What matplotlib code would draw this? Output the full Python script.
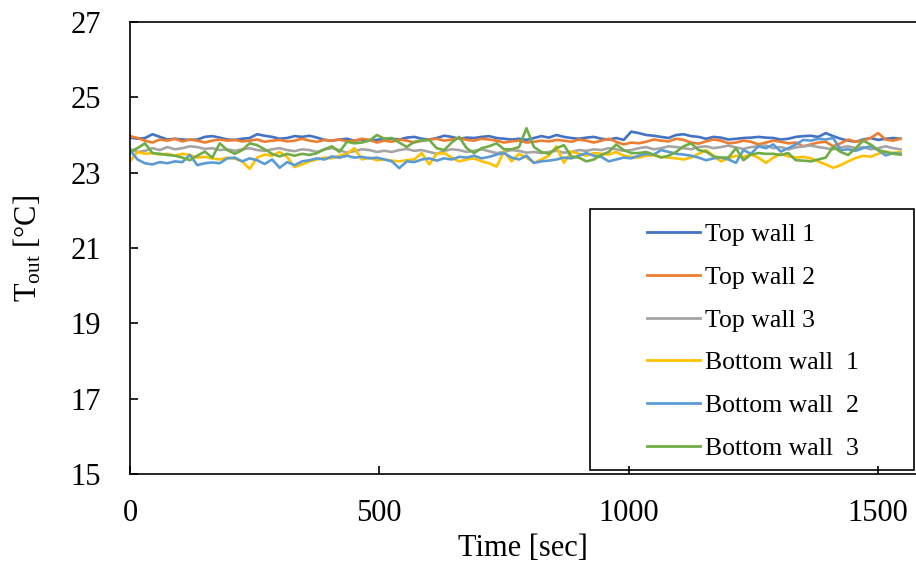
import matplotlib
matplotlib.use('Agg')

import matplotlib.pyplot as plt
import matplotlib.patches as patches
import numpy as np

plt.rcParams['font.family'] = ['Liberation Serif', 'DejaVu Serif']
plt.rcParams['mathtext.fontset'] = 'custom'
plt.rcParams['mathtext.rm'] = 'Liberation Serif'

# time axis, one sample every 15 s
time = np.arange(0, 1546, 15)

top_wall_1 = [
    23.93, 23.90, 23.92, 24.02, 23.95, 23.88, 23.90,
    23.88, 23.87, 23.88, 23.95, 23.97, 23.93, 23.88,
    23.87, 23.90, 23.92, 24.02, 23.98, 23.95, 23.90,
    23.92, 23.97, 23.95, 23.98, 23.93, 23.87, 23.85,
    23.88, 23.90, 23.85, 23.88, 23.85, 23.87, 23.90,
    23.90, 23.88, 23.93, 23.95, 23.90, 23.88, 23.92,
    23.98, 23.95, 23.90, 23.93, 23.92, 23.95, 23.97,
    23.92, 23.90, 23.88, 23.90, 23.87, 23.92, 23.97,
    23.93, 24.00, 23.95, 23.92, 23.90, 23.93, 23.95,
    23.90, 23.88, 23.92, 23.87, 24.09, 24.05, 24.00,
    23.98, 23.95, 23.92, 24.00, 24.02, 23.97, 23.95,
    23.90, 23.95, 23.93, 23.88, 23.90, 23.92, 23.93,
    23.95, 23.93, 23.92, 23.88, 23.90, 23.95, 23.97,
    23.98, 23.95, 24.05, 23.97, 23.90, 23.85, 23.82,
    23.88, 23.92, 23.87, 23.90, 23.92, 23.90]

top_wall_2 = [
    23.97, 23.92, 23.85, 23.80, 23.88, 23.85, 23.90,
    23.83, 23.88, 23.85, 23.80, 23.85, 23.88, 23.85,
    23.87, 23.83, 23.85, 23.88, 23.82, 23.85, 23.87,
    23.83, 23.85, 23.90, 23.85, 23.82, 23.87, 23.85,
    23.88, 23.83, 23.85, 23.90, 23.87, 23.80, 23.85,
    23.82, 23.88, 23.85, 23.80, 23.85, 23.88, 23.90,
    23.85, 23.88, 23.92, 23.87, 23.85, 23.90, 23.88,
    23.85, 23.80, 23.83, 23.85, 23.80, 23.82, 23.85,
    23.83, 23.87, 23.85, 23.82, 23.88, 23.85, 23.80,
    23.85, 23.90, 23.82, 23.75, 23.80, 23.78, 23.82,
    23.88, 23.85, 23.83, 23.90, 23.87, 23.80, 23.77,
    23.83, 23.88, 23.85, 23.78, 23.80, 23.85, 23.82,
    23.75, 23.80, 23.85, 23.82, 23.78, 23.80, 23.70,
    23.75, 23.80, 23.82, 23.70, 23.78, 23.88, 23.82,
    23.85, 23.92, 24.05, 23.88, 23.85, 23.90]

top_wall_3 = [
    23.62, 23.55, 23.58, 23.65, 23.60, 23.68, 23.62,
    23.65, 23.70, 23.68, 23.63, 23.65, 23.60, 23.62,
    23.58, 23.62, 23.65, 23.60, 23.58, 23.62, 23.65,
    23.60, 23.57, 23.62, 23.60, 23.55, 23.62, 23.65,
    23.60, 23.53, 23.57, 23.62, 23.60, 23.55, 23.58,
    23.55, 23.60, 23.63, 23.58, 23.60, 23.55, 23.50,
    23.58, 23.62, 23.60, 23.55, 23.58, 23.62, 23.57,
    23.52, 23.55, 23.60, 23.58, 23.53, 23.55, 23.52,
    23.55, 23.58, 23.53, 23.55, 23.60, 23.58, 23.62,
    23.60, 23.65, 23.62, 23.58, 23.60, 23.65, 23.68,
    23.62, 23.65, 23.70, 23.68, 23.65, 23.62, 23.68,
    23.70, 23.65, 23.68, 23.72, 23.67, 23.63, 23.68,
    23.70, 23.72, 23.65, 23.68, 23.62, 23.67, 23.70,
    23.72, 23.68, 23.65, 23.62, 23.67, 23.70, 23.65,
    23.68, 23.62, 23.65, 23.70, 23.65, 23.62]

bottom_wall_1 = [
    23.30, 23.55, 23.50, 23.52, 23.48, 23.50, 23.45,
    23.50, 23.47, 23.40, 23.42, 23.38, 23.35, 23.40,
    23.37, 23.30, 23.10, 23.40, 23.48, 23.45, 23.55,
    23.42, 23.15, 23.22, 23.30, 23.35, 23.40, 23.38,
    23.45, 23.50, 23.65, 23.35, 23.40, 23.33, 23.35,
    23.32, 23.30, 23.33, 23.35, 23.52, 23.22, 23.50,
    23.52, 23.40, 23.30, 23.35, 23.38, 23.30, 23.25,
    23.16, 23.56, 23.30, 23.50, 23.40, 23.26, 23.35,
    23.45, 23.70, 23.26, 23.56, 23.50, 23.45, 23.52,
    23.50, 23.48, 23.55, 23.45, 23.42, 23.40, 23.45,
    23.46, 23.42, 23.40, 23.38, 23.35, 23.40, 23.50,
    23.60, 23.45, 23.30, 23.38, 23.45, 23.42, 23.48,
    23.40, 23.26, 23.40, 23.50, 23.43, 23.40, 23.42,
    23.38, 23.30, 23.22, 23.13, 23.20, 23.30, 23.39,
    23.45, 23.42, 23.50, 23.56, 23.52, 23.55]

bottom_wall_2 = [
    23.60, 23.35, 23.25, 23.22, 23.28, 23.25, 23.30,
    23.28, 23.47, 23.20, 23.25, 23.27, 23.25, 23.38,
    23.40, 23.30, 23.38, 23.33, 23.23, 23.35, 23.13,
    23.28, 23.20, 23.30, 23.33, 23.38, 23.35, 23.43,
    23.40, 23.45, 23.40, 23.42, 23.38, 23.40, 23.35,
    23.30, 23.12, 23.30, 23.28, 23.35, 23.38, 23.32,
    23.38, 23.35, 23.42, 23.40, 23.45, 23.38, 23.42,
    23.48, 23.52, 23.40, 23.35, 23.45, 23.26, 23.30,
    23.32, 23.35, 23.40, 23.38, 23.45, 23.52, 23.45,
    23.42, 23.30, 23.35, 23.40, 23.38, 23.45, 23.50,
    23.48, 23.60, 23.55, 23.50, 23.48, 23.45, 23.40,
    23.33, 23.38, 23.40, 23.35, 23.26, 23.60, 23.50,
    23.70, 23.65, 23.75, 23.56, 23.65, 23.75, 23.87,
    23.85, 23.90, 23.88, 23.92, 23.60, 23.62, 23.58,
    23.65, 23.70, 23.60, 23.46, 23.52, 23.50]

bottom_wall_3 = [
    23.56, 23.65, 23.78, 23.52, 23.50, 23.47, 23.45,
    23.40, 23.33, 23.45, 23.56, 23.40, 23.78, 23.60,
    23.50, 23.60, 23.78, 23.73, 23.62, 23.50, 23.43,
    23.50, 23.45, 23.50, 23.47, 23.52, 23.62, 23.70,
    23.55, 23.82, 23.78, 23.80, 23.85, 24.00, 23.90,
    23.92, 23.80, 23.68, 23.82, 23.85, 23.87, 23.65,
    23.60, 23.80, 23.95, 23.65, 23.52, 23.65, 23.70,
    23.78, 23.62, 23.62, 23.68, 24.18, 23.68, 23.55,
    23.50, 23.65, 23.73, 23.43, 23.40, 23.30, 23.35,
    23.47, 23.55, 23.75, 23.60, 23.52, 23.52, 23.55,
    23.48, 23.40, 23.45, 23.55, 23.70, 23.78, 23.60,
    23.56, 23.43, 23.40, 23.40, 23.65, 23.33, 23.48,
    23.52, 23.50, 23.50, 23.47, 23.52, 23.33, 23.32,
    23.30, 23.35, 23.40, 23.69, 23.55, 23.47, 23.65,
    23.85, 23.75, 23.60, 23.55, 23.50, 23.48]

series = [top_wall_1, top_wall_2, top_wall_3, bottom_wall_1, bottom_wall_2, bottom_wall_3]
labels = ["Top wall 1", "Top wall 2", "Top wall 3",
          "Bottom wall  1", "Bottom wall  2", "Bottom wall  3"]
colors = ['#4472C4', '#ED7D31', '#A5A5A5', '#FFC000', '#5B9BD5', '#70AD47']

fig = plt.figure(figsize=(9.16, 5.74), dpi=100)
ax = fig.add_axes([130/916, 1 - 474/574, 1 - 130/916, (474 - 22)/574])

for s, lab, col in zip(series, labels, colors):
    ax.plot(time, s, color=col, linewidth=1.9, label=lab)

ax.set_xlim(0, 1576)
ax.set_ylim(15, 27)
ax.set_xticks([0, 500, 1000, 1500])
ax.set_yticks([15, 17, 19, 21, 23, 25, 27])
ax.tick_params(direction='in', length=6, width=1.2, labelsize=22)
ax.tick_params(axis='y', pad=21)
ax.tick_params(axis='x', pad=18)
ax.spines['right'].set_visible(False)
for sp in ['left', 'bottom', 'top']:
    ax.spines[sp].set_linewidth(1.2)

ax.set_xlabel("Time [sec]", fontsize=22, labelpad=4)
ax.set_ylabel(r"T$\mathregular{_{out}}$ [°C]", fontsize=22, labelpad=19)

leg = ax.legend(loc='upper left', bbox_to_anchor=(647/916, 1 - 223/574),
                bbox_transform=fig.transFigure, frameon=False, fontsize=18.5,
                borderpad=0, borderaxespad=0, handlelength=2.05,
                handletextpad=0.2, labelspacing=0.77)
for h in leg.get_lines():
    h.set_linewidth(2)

frame = patches.Rectangle((590/916, 1 - 470/574), (914 - 590)/916, (470 - 209)/574,
                          transform=fig.transFigure, fill=False,
                          edgecolor='black', linewidth=1.2)
fig.patches.append(frame)

plt.savefig("out.png", dpi=100)
